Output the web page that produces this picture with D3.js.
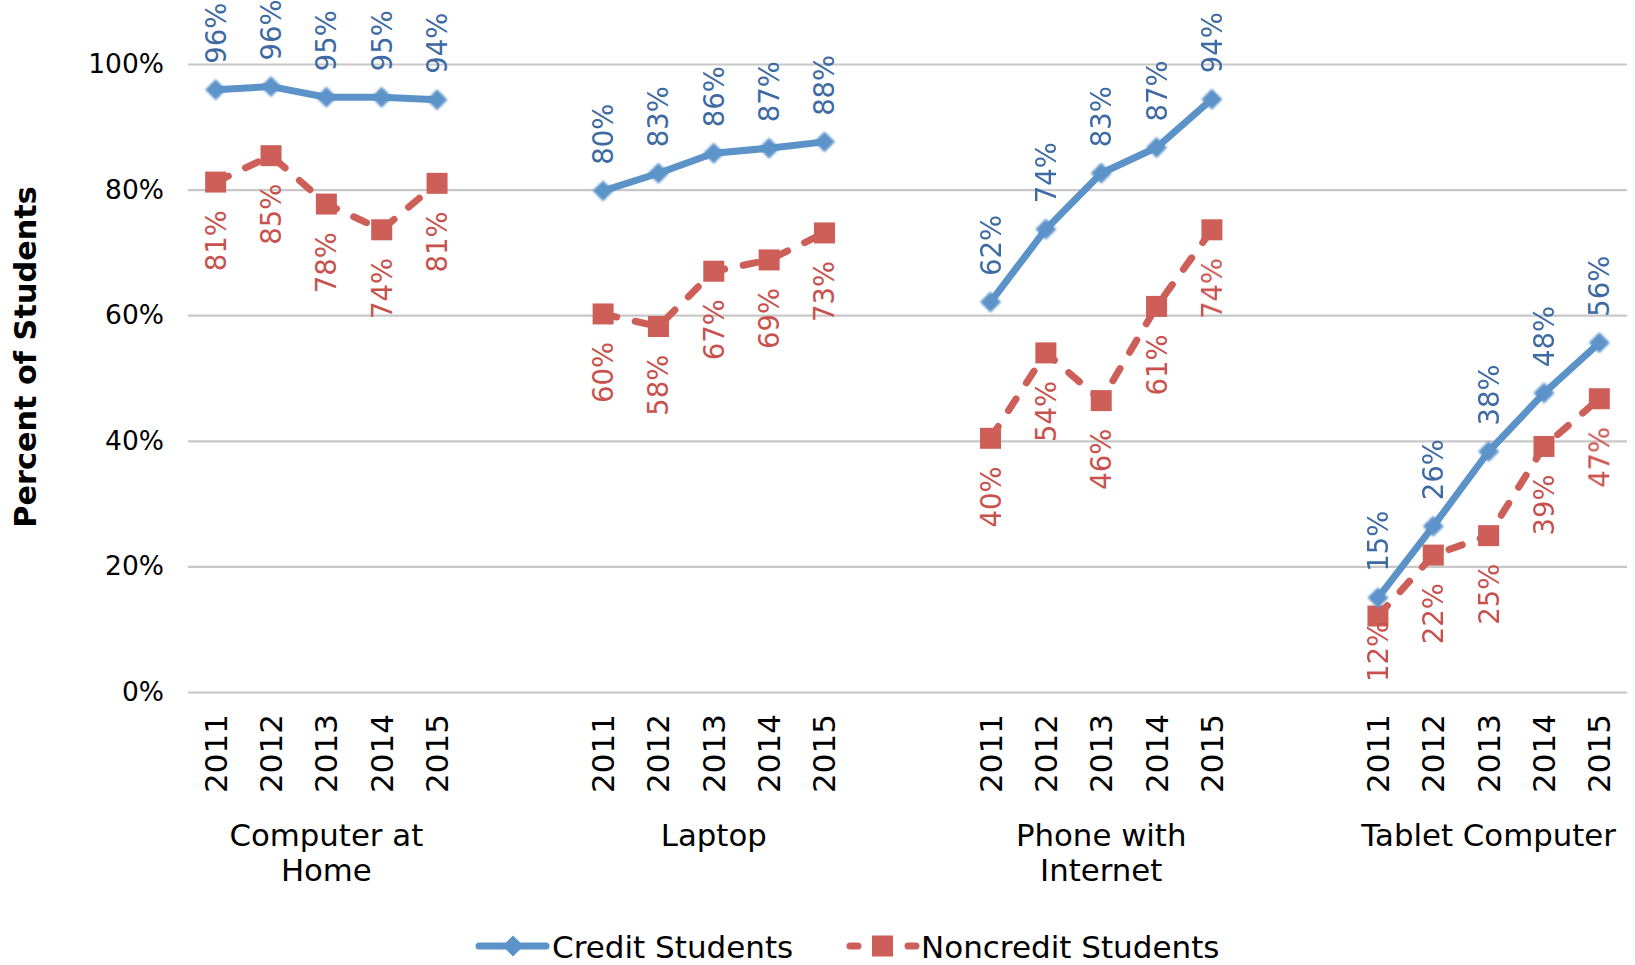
<!DOCTYPE html>
<html lang="en">
<head>
<meta charset="UTF-8" />
<title>Devices by student type</title>
<script src="https://d3js.org/d3.v7.min.js"></script>
<style>
  body { margin: 0; background: #fff; }
  svg text { font-family: "DejaVu Sans", Verdana, sans-serif; }
</style>
</head>
<body>
<svg id="chart" width="1635" height="965"></svg>
<script>

// data (percent of students)
var groups = [["Computer at", "Home"], ["Laptop"], ["Phone with", "Internet"], ["Tablet Computer"]]
var years = ["2011", "2012", "2013", "2014", "2015"]
var credit = [
  [95.9, 96.4, 94.7, 94.7, 94.3],
  [79.8, 82.6, 85.8, 86.6, 87.6],
  [62.1, 73.7, 82.6, 86.7, 94.4],
  [15.0, 26.4, 38.3, 47.6, 55.6]
]
var noncredit = [
  [81.2, 85.4, 77.7, 73.6, 81.0],
  [60.2, 58.2, 67.0, 68.8, 73.1],
  [40.4, 54.0, 46.4, 61.4, 73.6],
  [12.1, 21.8, 24.9, 39.1, 46.7]
]
var yTicks = [0, 20, 40, 60, 80, 100]
var seriesNames = ["Credit Students", "Noncredit Students"]

var blue = "#5b93c9", blueText = "#3d6aa3"
var red = "#cd5f58", redText = "#c9514d"

var svg = d3.select("#chart")
var plotLeft = 188, plotRight = 1627, plotTop = 64, plotBottom = 692

// x slots: 5 years per group plus 2 empty slots between groups
var slots = []
groups.forEach(function(g, gi) {
  years.forEach(function(yr) { slots.push(gi + "-" + yr) })
  if (gi < groups.length - 1) { slots.push(gi + "-gapA"); slots.push(gi + "-gapB") }
})
var x = d3.scaleBand().domain(slots).range([plotLeft, plotRight])
var cx = function(gi, i) { return x(gi + "-" + years[i]) + x.bandwidth() / 2 }
var y = d3.scaleLinear().domain([0, 100]).range([plotBottom, plotTop])

// gridlines + y labels
var yAxis = svg.append("g")
  .attr("transform", "translate(" + plotLeft + ",0)")
  .call(d3.axisLeft(y).tickValues(yTicks).tickSize(-(plotRight - plotLeft)).tickPadding(24)
    .tickFormat(function(d) { return d + "%" }))
yAxis.select(".domain").remove()
yAxis.selectAll(".tick line").attr("stroke", "#c8c8c8").attr("stroke-width", 2.2)
yAxis.selectAll(".tick text").attr("font-size", 26.5).attr("fill", "#000")
  .attr("font-family", "DejaVu Sans, sans-serif")

// year labels
var yearKeys = slots.filter(function(s) { return s.indexOf("gap") < 0 })
var xAxis = svg.append("g")
  .attr("transform", "translate(0," + plotBottom + ")")
  .call(d3.axisBottom(x).tickValues(yearKeys).tickSize(0)
    .tickFormat(function(d) { return d.split("-")[1] }))
xAxis.select(".domain").remove()
xAxis.selectAll(".tick text")
  .attr("font-size", 31).attr("fill", "#000")
  .attr("font-family", "DejaVu Sans, sans-serif")
  .attr("text-anchor", "end")
  .attr("dominant-baseline", "central")
  .attr("dy", null)
  .attr("y", 0)
  .attr("transform", "translate(0,22) rotate(-90)")

// group labels
groups.forEach(function(lines, gi) {
  var gx = cx(gi, 2)
  var t = svg.append("text").attr("x", gx).attr("y", 846)
    .attr("text-anchor", "middle").attr("font-size", 30.8).attr("fill", "#000")
  lines.forEach(function(l, li) {
    t.append("tspan").attr("x", gx).attr("dy", li == 0 ? 0 : 35).text(l)
  })
})

// y title
svg.append("text")
  .attr("transform", "translate(25,357) rotate(-90)")
  .attr("text-anchor", "middle").attr("dominant-baseline", "central")
  .attr("font-size", 30.3).attr("font-weight", "bold").attr("fill", "#000")
  .text("Percent of Students")

var line = d3.line()
  .x(function(d) { return d[0] })
  .y(function(d) { return y(d[1]) })

var diamond = d3.symbol().type(d3.symbolDiamond2).size(280)

var defs = svg.append("defs")
defs.append("filter").attr("id", "soft").append("feGaussianBlur").attr("stdDeviation", 1)

groups.forEach(function(g, gi) {
  var cPts = credit[gi].map(function(v, i) { return [cx(gi, i), v] })
  var nPts = noncredit[gi].map(function(v, i) { return [cx(gi, i), v] })

  // noncredit (dashed, squares)
  svg.append("path").datum(nPts)
    .attr("d", line).attr("fill", "none").attr("stroke", red)
    .attr("stroke-width", 7).attr("stroke-linecap", "round")
    .attr("stroke-dasharray", "14,19")
  svg.append("g").selectAll("rect").data(nPts).enter().append("rect")
    .attr("x", function(d) { return d[0] - 10.5 })
    .attr("y", function(d) { return y(d[1]) - 10.5 })
    .attr("width", 21).attr("height", 21).attr("fill", red)

  // credit (solid, diamonds)
  svg.append("path").datum(cPts)
    .attr("d", line).attr("fill", "none").attr("stroke", blue)
    .attr("stroke-width", 7).attr("stroke-linejoin", "round")
  svg.append("g").attr("filter", "url(#soft)").selectAll("path").data(cPts).enter().append("path")
    .attr("d", diamond)
    .attr("transform", function(d) { return "translate(" + d[0] + "," + y(d[1]) + ")" })
    .attr("fill", blue)

  // labels: credit above the point, noncredit below (kept inside the plot)
  svg.append("g").selectAll("text").data(cPts).enter().append("text")
    .attr("transform", function(d) { return "translate(" + d[0] + "," + (y(d[1]) - 26) + ") rotate(-90)" })
    .attr("dominant-baseline", "central").attr("text-anchor", "start")
    .attr("font-size", 27.5).attr("fill", blueText)
    .text(function(d) { return Math.round(d[1]) + "%" })
  svg.append("g").selectAll("text").data(nPts).enter().append("text")
    .attr("dominant-baseline", "central").attr("text-anchor", "end")
    .attr("font-size", 27.5).attr("fill", redText)
    .text(function(d) { return Math.round(d[1]) + "%" })
    .attr("transform", function(d) {
      var len = this.getComputedTextLength()
      var ty = Math.min(y(d[1]) + 28, plotBottom - 10 - len)
      return "translate(" + d[0] + "," + ty + ") rotate(-90)"
    })
})

// legend
var lg = svg.append("g").attr("transform", "translate(0,946)")
lg.append("line").attr("x1", 479).attr("x2", 546).attr("stroke", blue)
  .attr("stroke-width", 7).attr("stroke-linecap", "round")
lg.append("path").attr("d", diamond).attr("transform", "translate(513,0)").attr("fill", blue)
lg.append("text").attr("x", 552).attr("y", 12).attr("font-size", 31).attr("fill", "#000").text(seriesNames[0])

lg.append("line").attr("x1", 850).attr("x2", 916).attr("stroke", red)
  .attr("stroke-width", 7).attr("stroke-linecap", "round").attr("stroke-dasharray", "8,50")
lg.append("rect").attr("x", 872).attr("y", -10.5).attr("width", 21).attr("height", 21).attr("fill", red)
lg.append("text").attr("x", 921).attr("y", 12).attr("font-size", 31).attr("fill", "#000").text(seriesNames[1])
</script>
</body>
</html>
